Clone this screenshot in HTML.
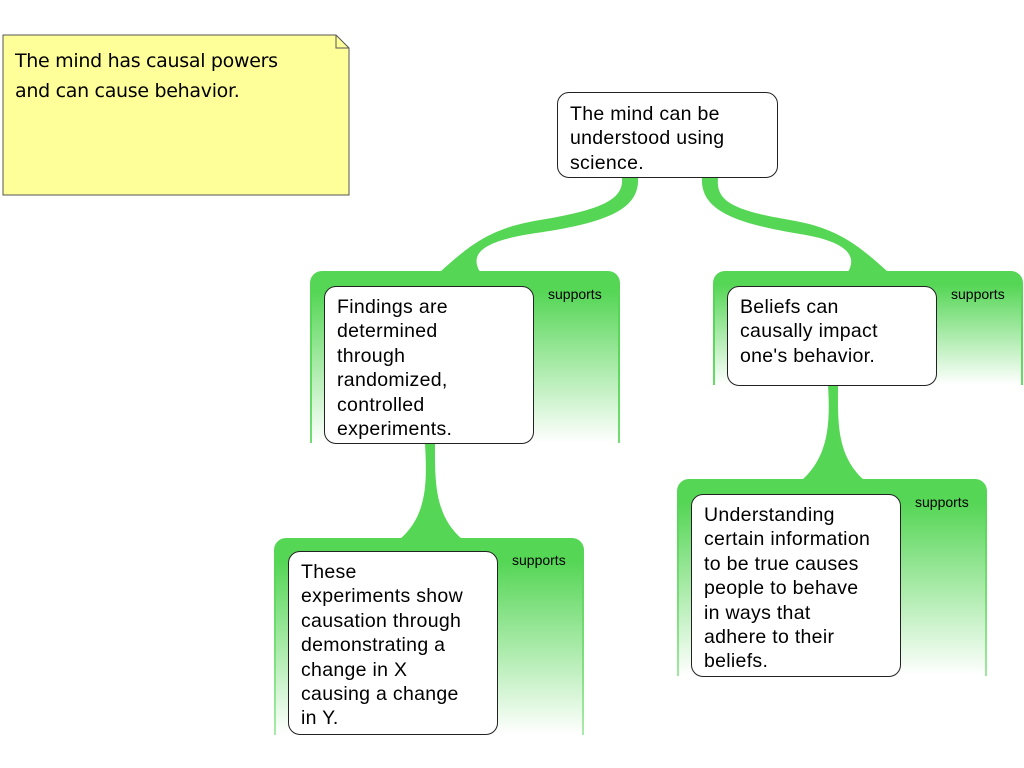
<!DOCTYPE html>
<html><head><meta charset="utf-8"><style>
body{margin:0;width:1024px;height:768px;background:#fff;overflow:hidden;position:relative;font-family:"Liberation Sans",sans-serif}
.box{position:absolute;background:#fff;border:1px solid #222;border-radius:12px;box-sizing:border-box;font-size:19.5px;line-height:24.4px;padding:8px 12px;color:#000;white-space:nowrap;letter-spacing:0.3px}
.lbl{position:absolute;font-size:14px;color:#000}
</style></head><body>
<svg width="1024" height="768" style="position:absolute;left:0;top:0">
<defs>
<linearGradient id="g" x1="0" y1="0" x2="0" y2="1">
<stop offset="0" stop-color="#55d655"/><stop offset="0.12" stop-color="#55d655"/><stop offset="1" stop-color="#55d655" stop-opacity="0"/>
</linearGradient>
<linearGradient id="e" x1="0" y1="0" x2="0" y2="1">
<stop offset="0" stop-color="#55d655"/><stop offset="1" stop-color="#55d655" stop-opacity="0.5"/>
</linearGradient>
</defs>
<g fill="url(#g)">
<path d="M310 443V283a12 12 0 0 1 12-12h286a12 12 0 0 1 12 12V443Z"/>
<path d="M713 385V283a12 12 0 0 1 12-12h286a12 12 0 0 1 12 12V385Z"/>
<path d="M274 735V550a12 12 0 0 1 12-12h286a12 12 0 0 1 12 12V735Z"/>
<path d="M677 676V491a12 12 0 0 1 12-12h286a12 12 0 0 1 12 12V676Z"/>
</g>
<g stroke="url(#e)" stroke-width="2">
<path d="M311 283V443M619 283V443M714 283V385M1022 283V385M275 550V735M583 550V735M678 491V676M986 491V676"/>
</g>
<g fill="#55d655">
<path d="M622 178 C624 200 600 210 540 220 C490 228 470 245 440 272 L480 272 C470 255 480 242 530 234 C600 224 640 212 638 178Z"/>
<path d="M702 178 C700 212 740 224 800 234 C845 241 858 255 848 272 L888 272 C858 245 838 228 790 220 C730 210 716 200 718 178Z"/>
<path d="M425 443 C427 480 428 515 400 539 L462 539 C434 515 435 480 435 443Z"/>
<path d="M828 385 C830 420 830 455 802 480 L864 480 C836 455 838 420 838 385Z"/>
</g>
<path d="M3 35H336L349 48V195H3Z" fill="#ffff99" stroke="#555" stroke-width="1"/>
<path d="M336 35V48H349" fill="none" stroke="#555"/>
</svg>
<div style="position:absolute;left:15px;top:46px;font-family:'Comic Sans MS','DejaVu Sans',sans-serif;font-size:19px;line-height:30px;white-space:nowrap;letter-spacing:-0.3px">The mind has causal powers<br>and can cause behavior.</div>
<div class="box" style="left:557px;top:92px;width:221px;height:86px;padding-top:9px">The mind can be<br>understood using<br>science.</div>
<div class="box" style="left:324px;top:286px;width:210px;height:158px">Findings are<br>determined<br>through<br>randomized,<br>controlled<br>experiments.</div>
<div class="box" style="left:727px;top:286px;width:210px;height:100px">Beliefs can<br>causally impact<br>one's behavior.</div>
<div class="box" style="left:288px;top:551px;width:210px;height:184px">These<br>experiments show<br>causation through<br>demonstrating a<br>change in X<br>causing a change<br>in Y.</div>
<div class="box" style="left:691px;top:494px;width:210px;height:183px">Understanding<br>certain information<br>to be true causes<br>people to behave<br>in ways that<br>adhere to their<br>beliefs.</div>
<div class="lbl" style="left:548px;top:286px">supports</div>
<div class="lbl" style="left:951px;top:286px">supports</div>
<div class="lbl" style="left:512px;top:552px">supports</div>
<div class="lbl" style="left:915px;top:494px">supports</div>
</body></html>
